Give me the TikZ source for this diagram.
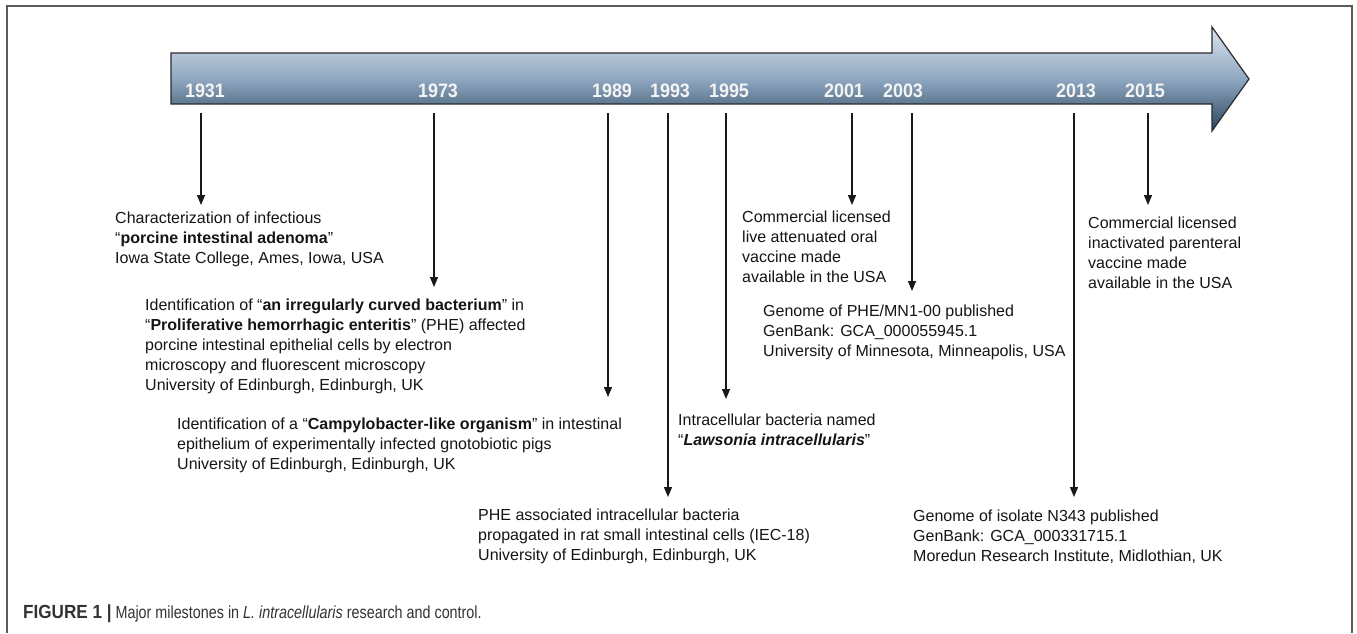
\documentclass[tikz,border=0pt]{standalone}
\usepackage{fontspec}
\setmainfont{Liberation Sans}
\newfontfamily\yearfont[FakeStretch=0.92]{Liberation Sans}
\newfontfamily\capfont[FakeStretch=0.82]{Liberation Sans}
\newfontfamily\capboldfont[FakeStretch=0.9]{Liberation Sans}
\usetikzlibrary{arrows.meta}
\definecolor{framec}{HTML}{5A5A5A}
\definecolor{arrtop}{HTML}{DCE5EF}
\definecolor{arrmid}{HTML}{8FA7C0}
\definecolor{arrbot}{HTML}{2A4560}
\definecolor{arroutline}{HTML}{2B2B2B}
\definecolor{yearwhite}{HTML}{F4F4F4}
\definecolor{txt}{HTML}{151515}
\definecolor{capc}{HTML}{333333}
\tikzset{
  yearlbl/.style={font=\yearfont\bfseries\fontsize{19.5}{20}\selectfont, text=yearwhite, anchor=base, inner sep=0pt},
  evtext/.style={font=\fontsize{16}{20}\selectfont, align=left, anchor=north west, inner sep=0pt, text=txt},
  milearrow/.style={line width=1.3pt, draw=black!90, -{Triangle[length=10pt,width=8pt]}},
  framestyle/.style={draw=framec, line width=1.3pt},
}
\begin{document}
\begin{tikzpicture}[x=1pt,y=-1pt]
\useasboundingbox (0,0) rectangle (1357,633);
\fill[white] (0,0) rectangle (1357,633);
% frame
\draw[framestyle] (7,633) -- (7,6) -- (1352,6) -- (1352,633);
% timeline arrow
\draw[arroutline, line width=1.2pt, top color=arrtop, bottom color=arrbot, middle color=arrmid]
  (171,53) -- (1212,53) -- (1212,27) -- (1249,79) -- (1212,131) -- (1212,104) -- (171,104) -- cycle;
% years
\node[yearlbl] (y1931) at (205,97) {1931};
\node[yearlbl] (y1973) at (438,97) {1973};
\node[yearlbl] (y1989) at (612,97) {1989};
\node[yearlbl] (y1993) at (670,97) {1993};
\node[yearlbl] (y1995) at (729,97) {1995};
\node[yearlbl] (y2001) at (844,97) {2001};
\node[yearlbl] (y2003) at (903,97) {2003};
\node[yearlbl] (y2013) at (1076,97) {2013};
\node[yearlbl] (y2015) at (1145,97) {2015};
% arrow endpoints
\coordinate (s1931) at (201,113); \coordinate (e1931) at (201,205);
\coordinate (s1973) at (434,113); \coordinate (e1973) at (434,287);
\coordinate (s1989) at (608,113); \coordinate (e1989) at (608,397);
\coordinate (s1993) at (668,113); \coordinate (e1993) at (668,497);
\coordinate (s1995) at (726,113); \coordinate (e1995) at (726,399);
\coordinate (s2001) at (852,113); \coordinate (e2001) at (852,205);
\coordinate (s2003) at (912,113); \coordinate (e2003) at (912,291);
\coordinate (s2013) at (1074,113); \coordinate (e2013) at (1074,497);
\coordinate (s2015) at (1148,113); \coordinate (e2015) at (1148,205);
\foreach \yr in {1931,1973,1989,1993,1995,2001,2003,2013,2015}
  \draw[milearrow] (s\yr) -- (e\yr);
% event texts
\node[evtext] (t1931) at (115,212) {Characterization of infectious\\“\textbf{porcine intestinal adenoma}”\\Iowa State College, Ames, Iowa, USA};
\node[evtext] (t1973) at (145,299) {Identification of “\textbf{an irregularly curved bacterium}” in\\“\textbf{Proliferative hemorrhagic enteritis}” (PHE) affected\\porcine intestinal epithelial cells by electron\\microscopy and fluorescent microscopy\\University of Edinburgh, Edinburgh, UK};
\node[evtext] (t1989) at (177,418) {Identification of a “\textbf{Campylobacter-like organism}” in intestinal\\epithelium of experimentally infected gnotobiotic pigs\\University of Edinburgh, Edinburgh, UK};
\node[evtext] (t1993) at (478,509) {PHE associated intracellular bacteria\\propagated in rat small intestinal cells (IEC-18)\\University of Edinburgh, Edinburgh, UK};
\node[evtext] (t1995) at (678,414) {Intracellular bacteria named\\“\textbf{\textit{Lawsonia intracellularis}}”};
\node[evtext] (t2001) at (742,211) {Commercial licensed\\live attenuated oral\\vaccine made\\available in the USA};
\node[evtext] (t2003) at (763,305) {Genome of PHE/MN1-00 published\\GenBank: GCA\_000055945.1\\University of Minnesota, Minneapolis, USA};
\node[evtext] (t2013) at (913,510) {Genome of isolate N343 published\\GenBank: GCA\_000331715.1\\Moredun Research Institute, Midlothian, UK};
\node[evtext] (t2015) at (1088,217) {Commercial licensed\\inactivated parenteral\\vaccine made\\available in the USA};
% caption
\node[anchor=base west, inner sep=0pt, text=capc] (cap) at (23,618)
  {{\capboldfont\bfseries\fontsize{19}{20}\selectfont FIGURE 1 |}\capfont\fontsize{17.5}{20}\selectfont{} Major milestones in \textit{L. intracellularis} research and control.};
\end{tikzpicture}
\end{document}
